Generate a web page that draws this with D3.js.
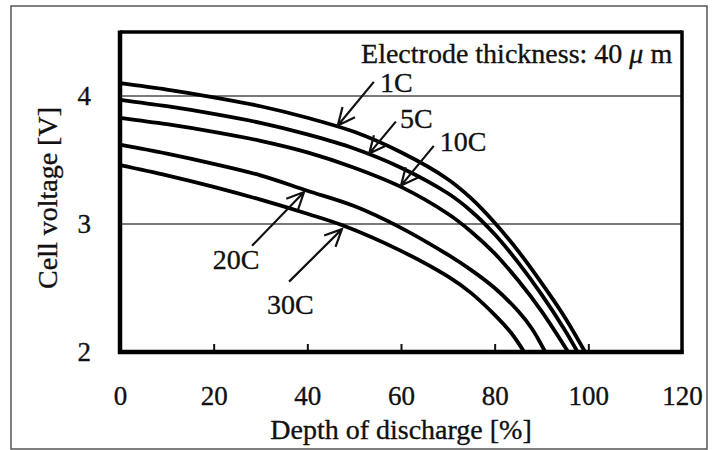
<!DOCTYPE html>
<html>
<head>
<meta charset="utf-8">
<script src="https://cdn.jsdelivr.net/npm/d3@7.9.0/dist/d3.min.js"></script>
<style>
  body { margin: 0; background: #fff; }
  svg text { font-family: "Liberation Serif", "Times New Roman", serif; fill: #111; stroke: #111; stroke-width: 0.35px; }
</style>
</head>
<body>
<svg id="chart" width="715" height="450"></svg>
<script>
// values (depth of discharge %, cell voltage V)
const c1 = [[0,4.10],[10,4.05],[20,3.99],[30,3.92],[40,3.83],[50,3.72],[60,3.56],[70,3.35],[75,3.20],[80,3.01],[85,2.79],[90,2.54],[95,2.27],[99.3,2.00]];
const c5 = [[0,3.97],[10,3.92],[20,3.86],[30,3.79],[40,3.70],[50,3.59],[60,3.44],[70,3.24],[75,3.10],[80,2.92],[85,2.70],[90,2.45],[95,2.17],[97.7,2.00]];
const c10 = [[0,3.83],[10,3.78],[20,3.72],[30,3.65],[40,3.56],[50,3.44],[60,3.29],[70,3.08],[75,2.94],[80,2.77],[85,2.56],[90,2.32],[95.7,2.00]];
const c20 = [[0,3.62],[10,3.55],[20,3.47],[30,3.38],[40,3.26],[50,3.14],[60,2.97],[70,2.76],[75,2.64],[80,2.50],[85,2.32],[88,2.18],[90.8,2.00]];
const c30 = [[0,3.46],[10,3.38],[20,3.29],[30,3.19],[40,3.08],[47.5,2.99],[60,2.79],[70,2.59],[75,2.46],[80,2.29],[83.5,2.15],[86.3,2.00]];
const curves = [c1, c5, c10, c20, c30];

const xTicks = [0, 20, 40, 60, 80, 100, 120];
const yTicks = [2, 3, 4];
const gridValues = [3, 4];

// rate labels: text anchor, arrow tail -> arrow tip (data units)
const rateLabels = [
  { text: "1C",  lx: 55.5, ly: 4.03, ax: 54.2, ay: 4.11, tx: 46.5, ty: 3.77 },
  { text: "5C",  lx: 59.8, ly: 3.75, ax: 58.9, ay: 3.80, tx: 53.2, ty: 3.55 },
  { text: "10C", lx: 68.3, ly: 3.57, ax: 67.0, ay: 3.61, tx: 60.0, ty: 3.30 },
  { text: "20C", lx: 19.8, ly: 2.65, ax: 28.2, ay: 2.83, tx: 39.3, ty: 3.25 },
  { text: "30C", lx: 31.4, ly: 2.30, ax: 36.1, ay: 2.55, tx: 47.4, ty: 2.96 }
];

const margin = { left: 120, top: 32, right: 33, bottom: 98 };
const W = 715, H = 450;
const pw = W - margin.left - margin.right;
const ph = H - margin.top - margin.bottom;

const svg = d3.select("#chart");

// outer frame
svg.append("rect")
  .attr("x", 11).attr("y", 6).attr("width", 696).attr("height", 443)
  .attr("fill", "none").attr("stroke", "#555").attr("stroke-width", 1.5);

const g = svg.append("g").attr("transform", `translate(${margin.left},${margin.top})`);

const x = d3.scaleLinear().domain([0, 120]).range([0, pw]);
const y = d3.scaleLinear().domain([2, 4.5]).range([ph, 0]);

// gridlines
g.selectAll(".grid")
  .data(gridValues)
  .join("line")
  .attr("x1", 0).attr("x2", pw)
  .attr("y1", d => y(d)).attr("y2", d => y(d))
  .attr("stroke", "#7a7a7a").attr("stroke-width", 2);

// inward ticks on bottom axis
g.append("g")
  .attr("transform", `translate(0,${ph})`)
  .call(d3.axisTop(x).tickValues([20, 40, 60, 80, 100]).tickSize(8).tickFormat(""))
  .call(a => a.select(".domain").remove())
  .call(a => a.selectAll("line").attr("stroke", "#111").attr("stroke-width", 2));

// tick labels
g.append("g")
  .attr("transform", `translate(0,${ph})`)
  .call(d3.axisBottom(x).tickValues(xTicks).tickSize(0).tickPadding(34).tickFormat(d3.format("d")))
  .call(a => a.select(".domain").remove())
  .call(a => a.selectAll("text").attr("font-size", 27).attr("font-family", null).attr("fill", null));

g.append("g")
  .call(d3.axisLeft(y).tickValues(yTicks).tickSize(0).tickPadding(29).tickFormat(d3.format("d")))
  .call(a => a.select(".domain").remove())
  .call(a => a.selectAll("text").attr("font-size", 27).attr("font-family", null).attr("fill", null));

// curves
const line = d3.line().x(d => x(d[0])).y(d => y(d[1])).curve(d3.curveCatmullRom.alpha(0.5));
g.append("defs").append("clipPath").attr("id", "clip")
  .append("rect").attr("x", -4).attr("y", 0).attr("width", pw + 4).attr("height", ph);
g.append("g").attr("clip-path", "url(#clip)")
  .selectAll("path")
  .data(curves)
  .join("path")
  .attr("d", line)
  .attr("fill", "none")
  .attr("stroke", "#000")
  .attr("stroke-width", 3.8);

// plot box
g.append("line").attr("x1", 0).attr("x2", pw).attr("y1", 0).attr("y2", 0).attr("stroke", "#000").attr("stroke-width", 3.5);
g.append("line").attr("x1", pw).attr("x2", pw).attr("y1", -1.5).attr("y2", ph + 2).attr("stroke", "#000").attr("stroke-width", 3.5);
g.append("line").attr("x1", 0).attr("x2", 0).attr("y1", -1.5).attr("y2", ph + 2).attr("stroke", "#000").attr("stroke-width", 4.5);
g.append("line").attr("x1", -2).attr("x2", pw + 1.5).attr("y1", ph).attr("y2", ph).attr("stroke", "#000").attr("stroke-width", 4.5);

// arrows
function arrowHead(d) {
  const x0 = x(d.ax), y0 = y(d.ay), x1 = x(d.tx), y1 = y(d.ty);
  const ang = Math.atan2(y1 - y0, x1 - x0);
  const len = 19, spread = 0.44;
  const p1 = [x1 - len * Math.cos(ang - spread), y1 - len * Math.sin(ang - spread)];
  const p2 = [x1 - len * Math.cos(ang + spread), y1 - len * Math.sin(ang + spread)];
  return `M${x0},${y0}L${x1},${y1}M${p1[0]},${p1[1]}L${x1},${y1}L${p2[0]},${p2[1]}`;
}
g.selectAll(".arrow")
  .data(rateLabels)
  .join("path")
  .attr("d", arrowHead)
  .attr("fill", "none")
  .attr("stroke", "#111")
  .attr("stroke-width", 2.2);

g.selectAll(".rate")
  .data(rateLabels)
  .join("text")
  .attr("x", d => x(d.lx))
  .attr("y", d => y(d.ly))
  .attr("font-size", 28)
  .text(d => d.text);

// electrode thickness note
const note = g.append("text")
  .attr("x", x(117.9)).attr("y", y(4.258))
  .attr("text-anchor", "end")
  .attr("font-size", 28);
note.append("tspan").text("Electrode thickness: 40 ");
note.append("tspan").attr("font-style", "italic").text("\u03bc");
note.append("tspan").text(" m");

// axis titles
svg.append("text")
  .attr("x", margin.left + pw / 2).attr("y", 439)
  .attr("text-anchor", "middle")
  .attr("font-size", 28)
  .text("Depth of discharge [%]");

svg.append("text")
  .attr("transform", `translate(57,${margin.top + ph / 2 + 6}) rotate(-90)`)
  .attr("text-anchor", "middle")
  .attr("font-size", 28)
  .text("Cell voltage [V]");
</script>
</body>
</html>
